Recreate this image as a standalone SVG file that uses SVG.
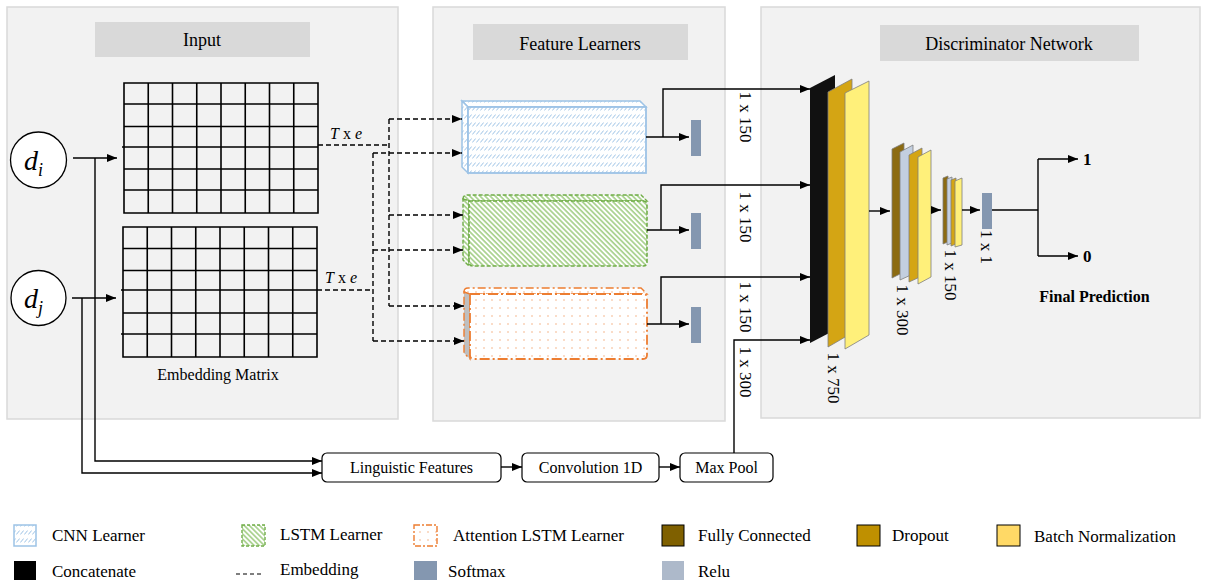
<svg xmlns="http://www.w3.org/2000/svg" width="1205" height="580" viewBox="0 0 1205 580" font-family="'Liberation Serif', 'Times New Roman', 'DejaVu Serif', serif">
<defs>
<style>
text{font-family:"Liberation Serif","Times New Roman","DejaVu Serif",serif;fill:#000}
.h{font-size:18px;text-anchor:middle}
.lg{font-size:17px}
.lbl{font-size:17px;text-anchor:middle;dominant-baseline:central}
.panel{fill:#f2f2f2;stroke:#d9d9d9;stroke-width:1.5}
.hdr{fill:#d9d9d9}
.grid{fill:none;stroke:#000;stroke-width:1.6}
.ln{fill:none;stroke:#000;stroke-width:1.4}
.dash{fill:none;stroke:#000;stroke-width:1.4;stroke-dasharray:5,3}
.sm{fill:#8497b0}
.box{fill:#fff;stroke:#000;stroke-width:1.2}
.lay{stroke:#7f7f7f;stroke-width:0.8}
</style>
<marker id="ah" viewBox="0 0 10 10" refX="10" refY="5" markerWidth="10" markerHeight="10" markerUnits="userSpaceOnUse" orient="auto">
<path d="M0,1 L10,5 L0,9 z" fill="#000"/>
</marker>
<pattern id="pBlue" width="4" height="8" patternUnits="userSpaceOnUse">
<rect width="4" height="8" fill="#fff"/>
<line x1="0.3" y1="6.5" x2="3.7" y2="2.5" stroke="#9dc3e6" stroke-width="1"/>
</pattern>
<pattern id="pGreen" width="3.6" height="3.6" patternUnits="userSpaceOnUse" patternTransform="rotate(45)">
<rect width="3.6" height="3.6" fill="#fff"/>
<rect width="3.6" height="1.7" fill="#a9d18e"/>
</pattern>
<pattern id="pDots" width="8" height="8" patternUnits="userSpaceOnUse">
<rect width="8" height="8" fill="#fff"/>
<circle cx="4" cy="4" r="0.8" fill="#f4b183"/>
</pattern>
</defs>

<g id="panels">
<rect class="panel" x="7" y="7" width="391" height="412"/>
<rect class="panel" x="433" y="7" width="292" height="414"/>
<rect class="panel" x="761" y="7" width="439" height="411"/>
<rect class="hdr" x="95" y="22" width="215" height="35"/>
<rect class="hdr" x="473" y="24" width="215" height="36"/>
<rect class="hdr" x="880" y="25" width="259" height="36"/>
<text class="h" x="202" y="46">Input</text>
<text class="h" x="580" y="50">Feature Learners</text>
<text class="h" x="1009" y="50">Discriminator Network</text>
</g>

<g id="node-di">
<circle cx="38.5" cy="160" r="28" fill="#fff" stroke="#000" stroke-width="1.3"/>
<text x="24" y="170" font-size="28" font-style="italic">d<tspan font-size="18" dy="6">i</tspan></text>
</g>
<g id="node-dj">
<circle cx="38.5" cy="298" r="27.5" fill="#fff" stroke="#000" stroke-width="1.3"/>
<text x="24" y="308" font-size="28" font-style="italic">d<tspan font-size="18" dy="6">j</tspan></text>
</g>

<g id="node-grid-top">
<path class="grid" d="M124,83H318V213H124Z M148.25,83V213 M172.5,83V213 M196.75,83V213 M221,83V213 M245.25,83V213 M269.5,83V213 M293.75,83V213 M124,104H318 M124,126.5H318 M122,147H318 M124,169H318"/>
<path class="grid" stroke-width="2.4" d="M124,190H318"/>
</g>
<g id="node-grid-bottom">
<path class="grid" d="M123,227H317V357H123Z M147.25,227V357 M171.5,227V357 M195.75,227V357 M220,227V357 M244.25,227V357 M268.5,227V357 M292.75,227V357 M123,248.5H317 M123,270.5H317 M121,290H317 M123,313H317"/>
<path class="grid" stroke-width="2.4" d="M121,334H317"/>
<text x="218" y="380" font-size="16" text-anchor="middle">Embedding Matrix</text>
</g>

<g id="node-cnn">
<polygon points="462,101 640,101 646,107 468,107" fill="url(#pBlue)" stroke="#9dc3e6" stroke-width="1.5"/>
<polygon points="462,101 468,107 468,173 462,167" fill="url(#pBlue)" stroke="#9dc3e6" stroke-width="1.5"/>
<rect x="468" y="107" width="178" height="66" fill="url(#pBlue)" stroke="#9dc3e6" stroke-width="1.8"/>
</g>
<g id="node-lstm">
<path d="M463,199Q463,195 467,195H641L647,201H469Z" fill="url(#pGreen)" stroke="#70ad47" stroke-width="1.4" stroke-dasharray="4,2"/>
<path d="M463,199L469,201V266L463,260Z" fill="url(#pGreen)" stroke="#70ad47" stroke-width="1.4" stroke-dasharray="4,2"/>
<path d="M469,201H643Q647,201 647,205V262Q647,266 643,266H473Q469,266 469,262Z" fill="url(#pGreen)" stroke="#70ad47" stroke-width="1.6" stroke-dasharray="4,2"/>
</g>
<g id="node-attn">
<path d="M464,292Q464,288 468,288H641L647,294H470Z" fill="url(#pDots)" stroke="#ed7d31" stroke-width="1.4" stroke-dasharray="8,3,2,3"/>
<path d="M464,292L470,294V359L464,353Z" fill="#bfbfbf" stroke="#ed7d31" stroke-width="1.4" stroke-dasharray="8,3,2,3"/>
<path d="M470,294H643Q647,294 647,298V355Q647,359 643,359H474Q470,359 470,355Z" fill="url(#pDots)" stroke="#ed7d31" stroke-width="1.8" stroke-dasharray="10,3,2,3"/>
</g>

<g id="node-softmax-1"><rect class="sm" x="691" y="120" width="10" height="36"/></g>
<g id="node-softmax-2"><rect class="sm" x="691" y="213" width="10" height="36"/></g>
<g id="node-softmax-3"><rect class="sm" x="691" y="307" width="10" height="36"/></g>

<g id="node-concat">
<polygon points="810,88 835,75 835,330 810,343" fill="#111"/>
<polygon class="lay" points="828,92 852,79 852,333 828,347" fill="#d4a514"/>
<polygon class="lay" points="845,93 869,81 869,335 845,349" fill="#fff07a"/>
</g>
<g id="node-dense-300">
<polygon class="lay" points="892,149 904,143 904,272 892,278" fill="#8c6b12"/>
<polygon class="lay" points="900,152 913,145 913,274 900,280" fill="#c3cfe0"/>
<polygon class="lay" points="909,155 922,148 922,276 909,282" fill="#d4a514"/>
<polygon class="lay" points="918,157 931,150 931,277 918,284" fill="#fff07a"/>
</g>
<g id="node-dense-150">
<polygon class="lay" points="943,178 948,176 948,242 943,244" fill="#8c6b12"/>
<polygon class="lay" points="947,179 952,177 952,243 947,245" fill="#c3cfe0"/>
<polygon class="lay" points="951,180 956,178 956,244 951,246" fill="#d4a514"/>
<polygon class="lay" points="955,181 962,178 962,245 955,247" fill="#fff07a"/>
</g>
<g id="node-softmax-out"><rect class="sm" x="982" y="193" width="10" height="36"/></g>

<g id="node-ling"><rect class="box" x="322" y="453" width="179" height="29" rx="5"/><text x="411.5" y="473" font-size="16" text-anchor="middle">Linguistic Features</text></g>
<g id="node-conv"><rect class="box" x="522" y="453" width="137" height="29" rx="5"/><text x="590.5" y="473" font-size="16" text-anchor="middle">Convolution 1D</text></g>
<g id="node-pool"><rect class="box" x="680" y="453" width="93" height="29" rx="5"/><text x="726.5" y="473" font-size="16" text-anchor="middle">Max Pool</text></g>

<g id="connectors">
<path class="ln" d="M73,158H117" marker-end="url(#ah)"/>
<path class="ln" d="M72,298H116" marker-end="url(#ah)"/>
<path class="ln" d="M95,158V461H322" marker-end="url(#ah)"/>
<path class="ln" d="M82,298V473H322" marker-end="url(#ah)"/>
<path class="ln" d="M501,467H522" marker-end="url(#ah)"/>
<path class="ln" d="M659,467H680" marker-end="url(#ah)"/>

<path class="dash" d="M318,145H389"/>
<path class="dash" d="M389,119V306"/>
<path class="dash" d="M389,119H462" marker-end="url(#ah)"/>
<path class="dash" d="M389,215H463" marker-end="url(#ah)"/>
<path class="dash" d="M389,306H464" marker-end="url(#ah)"/>
<path class="dash" d="M317,290H373"/>
<path class="dash" d="M373,153V341"/>
<path class="dash" d="M373,153H462" marker-end="url(#ah)"/>
<path class="dash" d="M373,250H463" marker-end="url(#ah)"/>
<path class="dash" d="M373,341H464" marker-end="url(#ah)"/>

<path class="ln" d="M646,137H689" marker-end="url(#ah)"/>
<path class="ln" d="M663,137V89H810" marker-end="url(#ah)"/>
<path class="ln" d="M647,230H689" marker-end="url(#ah)"/>
<path class="ln" d="M661,230V185H810" marker-end="url(#ah)"/>
<path class="ln" d="M647,324H689" marker-end="url(#ah)"/>
<path class="ln" d="M661,324V277H810" marker-end="url(#ah)"/>
<path class="ln" d="M734,453V340H810" marker-end="url(#ah)"/>

<path class="ln" d="M869,211H890" marker-end="url(#ah)"/>
<path class="ln" d="M931,210H941" marker-end="url(#ah)"/>
<path class="ln" d="M962,210H980" marker-end="url(#ah)"/>
<path class="ln" d="M992,210H1038"/>
<path class="ln" d="M1038,159V256"/>
<path class="ln" d="M1038,159H1078" marker-end="url(#ah)"/>
<path class="ln" d="M1038,256H1078" marker-end="url(#ah)"/>
</g>

<g id="labels">
<text x="330" y="139" font-size="16"><tspan font-style="italic">T</tspan> x <tspan font-style="italic">e</tspan></text>
<text x="325" y="283" font-size="16"><tspan font-style="italic">T</tspan> x <tspan font-style="italic">e</tspan></text>
<text class="lbl" transform="translate(745,117) rotate(90)">1 x 150</text>
<text class="lbl" transform="translate(745,217) rotate(90)">1 x 150</text>
<text class="lbl" transform="translate(745,307) rotate(90)">1 x 150</text>
<text class="lbl" transform="translate(745,372) rotate(90)">1 x 300</text>
<text class="lbl" transform="translate(833,378) rotate(90)">1 x 750</text>
<text class="lbl" transform="translate(902,310) rotate(90)">1 x 300</text>
<text class="lbl" transform="translate(950,275) rotate(90)">1 x 150</text>
<text class="lbl" transform="translate(986,247) rotate(90)">1 x 1</text>
<text x="1083" y="165" font-size="17" font-weight="bold">1</text>
<text x="1083" y="262" font-size="17" font-weight="bold">0</text>
<text x="1094.5" y="302" font-size="16" font-weight="bold" text-anchor="middle">Final Prediction</text>
</g>

<g id="legend">
<rect x="14" y="525" width="22" height="21" fill="url(#pBlue)" stroke="#9dc3e6" stroke-width="1.5"/>
<text class="lg" x="52" y="541">CNN Learner</text>
<rect x="242" y="525" width="23" height="21" fill="url(#pGreen)" stroke="#70ad47" stroke-width="1.4" stroke-dasharray="3,2"/>
<text class="lg" x="280" y="540">LSTM Learner</text>
<rect x="414" y="525" width="23" height="21" fill="url(#pDots)" stroke="#ed7d31" stroke-width="1.4" stroke-dasharray="6,2,2,2"/>
<text class="lg" x="453" y="541">Attention LSTM Learner</text>
<rect x="662" y="525" width="22" height="21" fill="#7f6000" stroke="#000" stroke-width="1"/>
<text class="lg" x="698" y="541">Fully Connected</text>
<rect x="857" y="525" width="23" height="21" fill="#bf9000" stroke="#000" stroke-width="1"/>
<text class="lg" x="892" y="541">Dropout</text>
<rect x="997" y="525" width="23" height="21" fill="#ffd966" stroke="#000" stroke-width="1"/>
<text class="lg" x="1034" y="542">Batch Normalization</text>
<rect x="14" y="561" width="22" height="19" fill="#000"/>
<text class="lg" x="52" y="577">Concatenate</text>
<line x1="236" y1="574" x2="262" y2="574" stroke="#000" stroke-width="1.2" stroke-dasharray="4,3"/>
<text class="lg" x="280" y="575">Embedding</text>
<rect x="414" y="561" width="23" height="19" fill="#8497b0"/>
<text class="lg" x="448" y="577">Softmax</text>
<rect x="662" y="561" width="22" height="19" fill="#adb9ca"/>
<text class="lg" x="698" y="577">Relu</text>
</g>
</svg>
